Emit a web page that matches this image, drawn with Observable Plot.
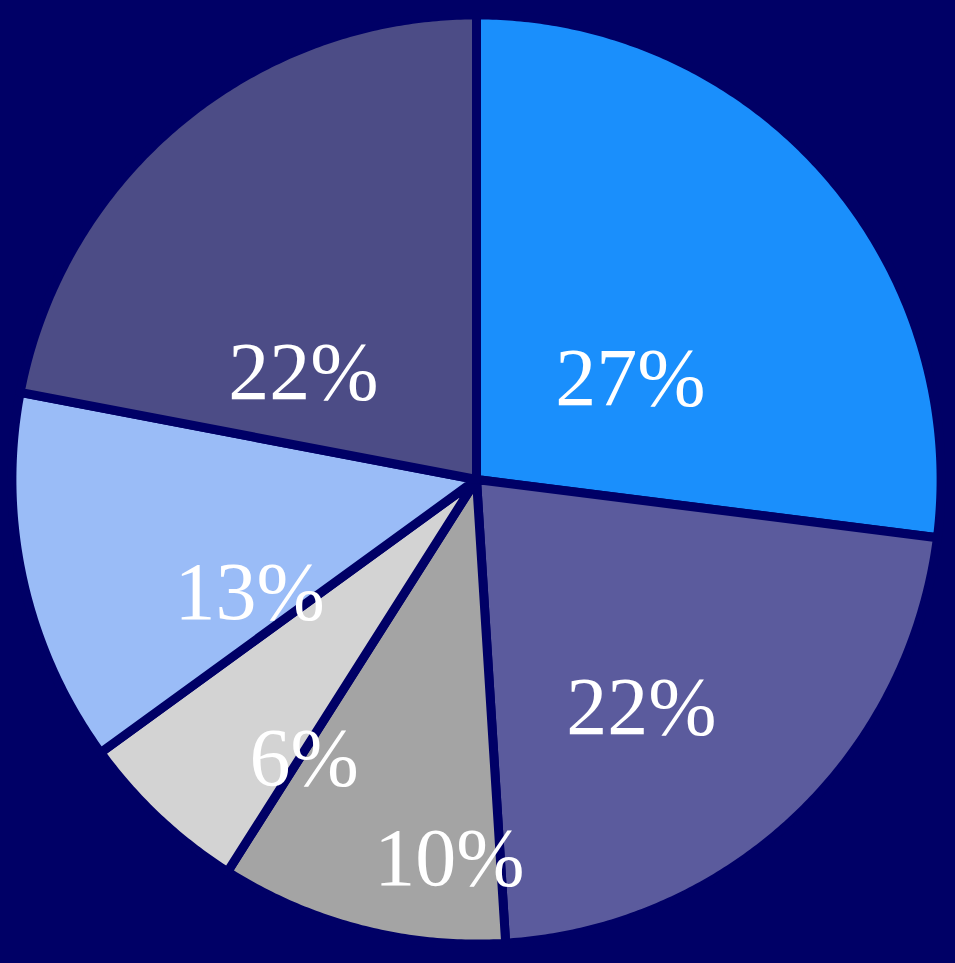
<!DOCTYPE html>
<html>
<head>
<meta charset="utf-8">
<script src="https://cdn.jsdelivr.net/npm/d3@7"></script>
<script src="https://cdn.jsdelivr.net/npm/@observablehq/plot@0.6"></script>
<style>
  html, body { margin: 0; padding: 0; background: #000066; }
  #chart svg { display: block; }
</style>
</head>
<body>
<div id="chart"></div>
<script>
// Data
const categories = ["A", "B", "C", "D", "E", "F"];
const values = [27, 22, 10, 6, 13, 22];
const labels = ["27%", "22%", "10%", "6%", "13%", "22%"];

// Styling / layout (not data)
const colors = ["#1a8ffc", "#5b5b9d", "#a4a4a4", "#d3d3d3", "#9abcf7", "#4c4c86"];
const labelRadius = [0.40, 0.613, 0.826, 0.713, 0.551, 0.442];   // fraction of radius
const labelShiftDeg = [8.1, 7.4, -10.3, -11.5, -13.9, -18.7];     // shift from mid-angle

const W = 955, H = 963;
const cx = 476, cy = 479, R = 460;
const rOuter = 1.01; // slightly larger; navy stroke trims the edge

const pie = d3.pie().sort(null).value(d => d)(values);

// Build polygon outlines for each slice in unit coordinates
const outline = [];
pie.forEach((p, i) => {
  const a0 = p.startAngle, a1 = p.endAngle;
  outline.push({cat: categories[i], x: 0, y: 0});
  const n = Math.max(4, Math.ceil((a1 - a0) / (Math.PI / 360)));
  for (let k = 0; k <= n; k++) {
    const a = a0 + (a1 - a0) * k / n;
    outline.push({cat: categories[i], x: rOuter * Math.sin(a), y: rOuter * Math.cos(a)});
  }
});

const labelData = pie.map((p, i) => {
  const a = (p.startAngle + p.endAngle) / 2 + labelShiftDeg[i] * Math.PI / 180;
  return {text: labels[i], x: labelRadius[i] * Math.sin(a), y: labelRadius[i] * Math.cos(a)};
});

const chart = Plot.plot({
  width: W,
  height: H,
  margin: 0,
  style: {background: "#000066"},
  x: {domain: [-cx / R, (W - cx) / R], axis: null},
  y: {domain: [-(H - cy) / R, cy / R], axis: null},
  color: {domain: categories, range: colors},
  marks: [
    Plot.line(outline, {
      x: "x", y: "y", z: "cat",
      fill: "cat",
      stroke: "#000066",
      strokeWidth: 9,
      strokeLinejoin: "round",
      curve: "linear-closed"
    }),
    Plot.text(labelData, {
      x: "x", y: "y", text: "text",
      fill: "white",
      fontSize: 82,
      fontFamily: "Liberation Serif, DejaVu Serif, serif",
      textAnchor: "middle",
      lineAnchor: "middle"
    })
  ]
});

chart.querySelectorAll("text").forEach(t => t.style.fontVariantNumeric = "oldstyle-nums");
document.getElementById("chart").appendChild(chart);
</script>
</body>
</html>
